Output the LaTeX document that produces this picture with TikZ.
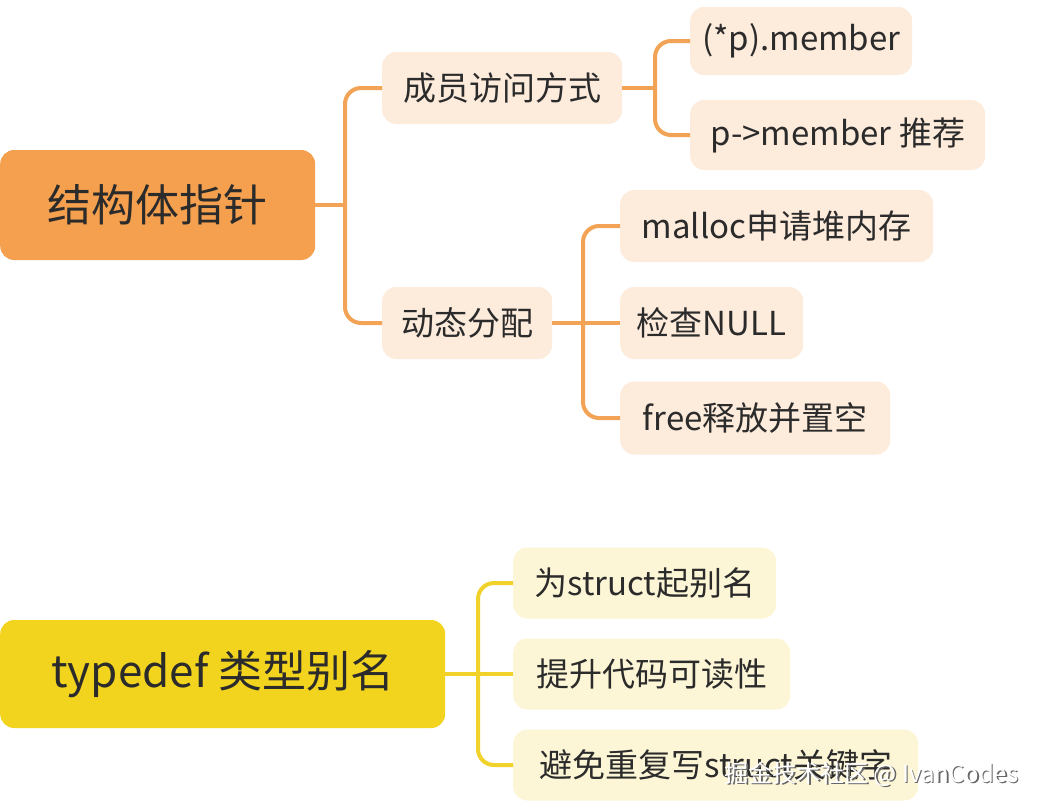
\documentclass[tikz,border=0pt]{standalone}
\usepackage{fontspec}
\setmainfont{Noto Sans CJK SC}
\definecolor{og}{HTML}{F5A04E}
\definecolor{ol}{HTML}{FDEBDC}
\definecolor{ln}{HTML}{F2A356}
\definecolor{yg}{HTML}{F2D41F}
\definecolor{yl}{HTML}{FDF6D6}
\definecolor{yln}{HTML}{F0D22A}
\definecolor{tx}{HTML}{2B2B2B}
\begin{document}
\begin{tikzpicture}[x=1pt,y=-1pt,
 box/.style={rounded corners=14pt,anchor=west,inner sep=0pt,text=tx},
 root/.style={box,fill=og,minimum height=110pt,font=\fontsize{44}{50}\selectfont},
 kid/.style={box,fill=ol,minimum height=72pt,font=\fontsize{33}{38}\selectfont},
 yroot/.style={box,fill=yg,minimum height=108pt,font=\fontsize{44}{50}\selectfont},
 ykid/.style={box,fill=yl,minimum height=71pt,font=\fontsize{33}{38}\selectfont},
 con/.style={draw=ln,line width=4pt,rounded corners=16pt},
 ycon/.style={draw=yln,line width=4pt,rounded corners=16pt}]
\useasboundingbox (0,0) rectangle (1043,811);
\node[root,minimum width=315pt] (r1) at (0,205) {结构体指针};
\node[kid,minimum width=240pt] (a) at (382,88) {成员访问方式};
\node[kid,minimum width=222pt,minimum height=68pt] (a1) at (690,41) {(*p).member};
\node[kid,minimum width=295pt,minimum height=70pt] (a2) at (690,135) {p->member 推荐};
\node[kid,minimum width=170pt] (b) at (382,323) {动态分配};
\node[kid,minimum width=313pt] (b1) at (620,226) {malloc申请堆内存};
\node[kid,minimum width=183pt] (b2) at (620,323) {检查NULL};
\node[kid,minimum width=270pt,minimum height=73pt] (b3) at (620,418) {free释放并置空};
\node[yroot,minimum width=445pt] (r2) at (0,674) {typedef 类型别名};
\node[ykid,minimum width=263pt] (c1) at (513,583) {为struct起别名};
\node[ykid,minimum width=277pt] (c2) at (513,674) {提升代码可读性};
\node[ykid,minimum width=405pt] (c3) at (513,765) {避免重复写struct关键字};
\coordinate (j1) at (345,205);
\draw[con] (r1.east) -- (j1);
\draw[con] (j1) |- (a.west);
\draw[con] (j1) |- (b.west);
\coordinate (j2) at (655,88);
\draw[con] (a.east) -- (j2);
\draw[con] (j2) |- (a1.west);
\draw[con] (j2) |- (a2.west);
\coordinate (j3) at (583,323);
\draw[con] (b.east) -- (j3);
\draw[con] (j3) |- (b1.west);
\draw[con] (j3) -- (b2.west);
\draw[con] (j3) |- (b3.west);
\coordinate (j4) at (478,674);
\draw[ycon] (r2.east) -- (j4);
\draw[ycon] (j4) |- (c1.west);
\draw[ycon] (j4) -- (c2.west);
\draw[ycon] (j4) |- (c3.west);
\node[anchor=east,text=black!60,font=\fontsize{24}{28}\selectfont] at (1023.5,775.5) {掘金技术社区 @ IvanCodes};
\node[anchor=east,text=white,font=\fontsize{24}{28}\selectfont] (wm) at (1022,774) {掘金技术社区 @ IvanCodes};
\end{tikzpicture}
\end{document}
